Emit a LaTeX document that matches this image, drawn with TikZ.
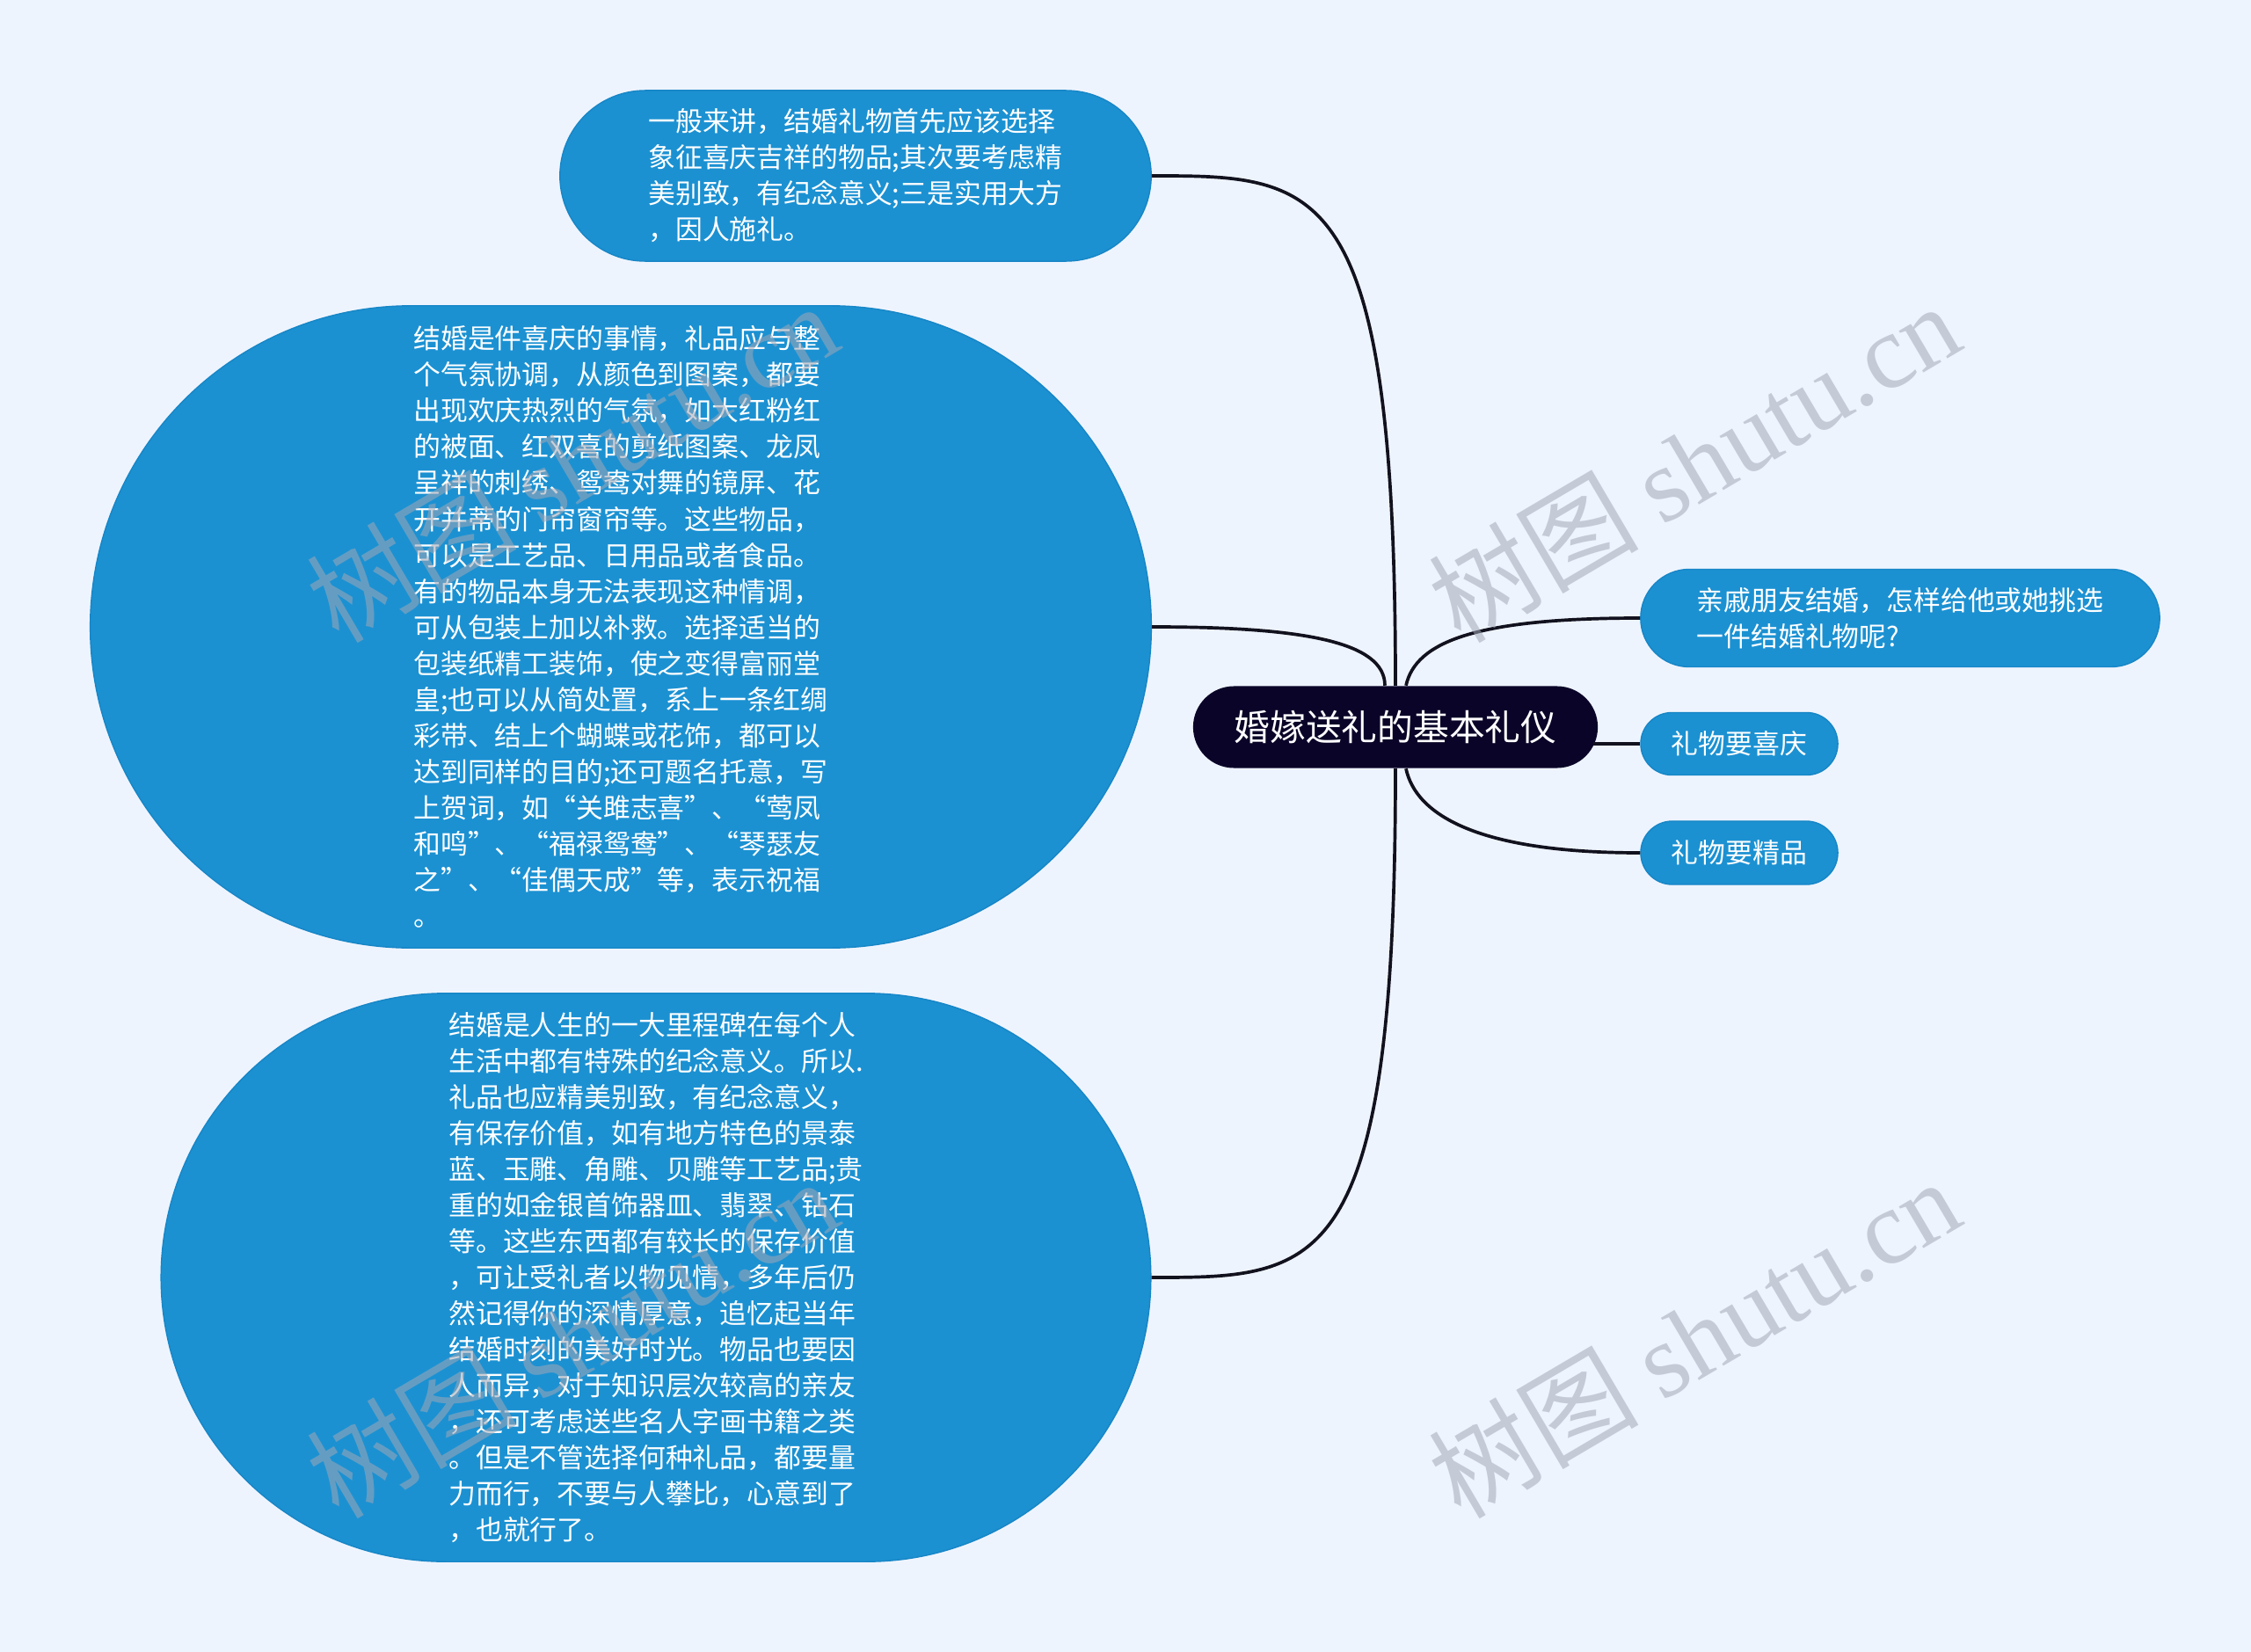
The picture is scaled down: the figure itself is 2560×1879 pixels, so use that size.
\documentclass[tikz,border=0pt]{standalone}
\usepackage{fontspec}
\setmainfont{Noto Sans CJK SC}
\newfontfamily\wmserif{Liberation Serif}
\usepackage{tikz}
\usetikzlibrary{calc}
\definecolor{pagebg}{HTML}{EEF4FE}
\definecolor{topicfill}{HTML}{0A0528}
\definecolor{leafblue}{HTML}{1B91D2}
\definecolor{leafedge}{HTML}{1786C6}
\definecolor{linkcol}{HTML}{12121E}
\definecolor{wmgray}{HTML}{A2A8B6}
\tikzset{
	% centre topic
	topic/.style={rectangle, fill=topicfill, text=white, inner sep=0pt,
		minimum width=4.6cm, minimum height=0.93cm, rounded corners=0.465cm,
		font=\fontsize{11.6pt}{14pt}\selectfont},
	% blue boxes, size given as #1 x #2 (cm)
	leaf/.style 2 args={rectangle, fill=leafblue, draw=leafedge, line width=0.4pt,
		text=white, inner sep=0pt, align=left,
		minimum width=#1cm, minimum height=#2cm, rounded corners=#2*0.5cm,
		font=\fontsize{8.77pt}{11.67pt}\selectfont},
	link/.style={draw=linkcol, line width=1.05pt},
	wmark/.style={text=wmgray, text opacity=0.55, rotate=30.5, inner sep=0pt,
		font=\fontsize{34pt}{36pt}\selectfont}
}
\begin{document}
\begin{tikzpicture}[x=0.01cm, y=-0.01cm]
	% page: 2560 x 1879 px
	\path[use as bounding box, fill=pagebg] (0,0) rectangle (2560,1879);
	% centre
	\node[topic] (root) at (1587,827) {婚嫁送礼的基本礼仪};
	% left side
	\node[leaf={6.72}{1.94}] (meaning) at (973,200) {一般来讲，结婚礼物首先应该选择\\
		象征喜庆吉祥的物品;其次要考虑精\\
		美别致，有纪念意义;三是实用大方\\
		，因人施礼。};
	\node[leaf={12.06}{7.30}] (festive) at (706,713) {结婚是件喜庆的事情，礼品应与整\\
		个气氛协调，从颜色到图案，都要\\
		出现欢庆热烈的气氛，如大红粉红\\
		的被面、红双喜的剪纸图案、龙凤\\
		呈祥的刺绣、鸳鸯对舞的镜屏、花\\
		开并蒂的门帘窗帘等。这些物品，\\
		可以是工艺品、日用品或者食品。\\
		有的物品本身无法表现这种情调，\\
		可从包装上加以补救。选择适当的\\
		包装纸精工装饰，使之变得富丽堂\\
		皇;也可以从简处置，系上一条红绸\\
		彩带、结上个蝴蝶或花饰，都可以\\
		达到同样的目的;还可题名托意，写\\
		上贺词，如“关雎志喜”、“莺凤\\
		和鸣”、“福禄鸳鸯”、“琴瑟友\\
		之”、“佳偶天成”等，表示祝福\\
		。};
	\node[leaf={11.25}{6.46}] (fine) at (746,1453) {结婚是人生的一大里程碑在每个人\\
		生活中都有特殊的纪念意义。所以.\\
		礼品也应精美别致，有纪念意义，\\
		有保存价值，如有地方特色的景泰\\
		蓝、玉雕、角雕、贝雕等工艺品;贵\\
		重的如金银首饰器皿、翡翠、钻石\\
		等。这些东西都有较长的保存价值\\
		，可让受礼者以物见情，多年后仍\\
		然记得你的深情厚意，追忆起当年\\
		结婚时刻的美好时光。物品也要因\\
		人而异，对于知识层次较高的亲友\\
		，还可考虑送些名人字画书籍之类\\
		。但是不管选择何种礼品，都要量\\
		力而行，不要与人攀比，心意到了\\
		，也就行了。};
	% right side
	\node[leaf={5.90}{1.11}] (question) at (2161,703) {亲戚朋友结婚，怎样给他或她挑选\\
		一件结婚礼物呢?};
	\node[leaf={2.24}{0.71}] (joyful) at (1978,846) {礼物要喜庆};
	\node[leaf={2.24}{0.72}] (quality) at (1978,970) {礼物要精品};
	% connectors
	\draw[link] (root.north) .. controls (root.north |- meaning.east) and ($(meaning.east)+(191,0)$) .. (meaning.east);
	\draw[link] ($(root.north)+(-12,0)$) .. controls ($(root.north)+(-12,-50)$) and ($(festive.east)+(171,0)$) .. (festive.east);
	\draw[link] (root.south) .. controls (root.south |- fine.east) and ($(fine.east)+(191,0)$) .. (fine.east);
	\draw[link] ($(root.north)+(12,0)$) .. controls ($(root.north)+(23,-50)$) and ($(question.west)+(-186,0)$) .. (question.west);
	\draw[link] ($(root.east |- joyful.west)+(-6,0)$) -- (joyful.west);
	\draw[link] ($(root.south)+(12,0)$) .. controls ($(root.south)+(23,52)$) and ($(quality.west)+(-186,0)$) .. (quality.west);
	% watermarks
	\node[wmark] (wm1) at (1926,525) {树图 {\wmserif shutu.cn}};
	\node[wmark] (wm2) at (1926,1521) {树图 {\wmserif shutu.cn}};
	\node[wmark] (wm3) at (650,525) {树图 {\wmserif shutu.cn}};
	\node[wmark] (wm4) at (650,1521) {树图 {\wmserif shutu.cn}};
\end{tikzpicture}
\end{document}
